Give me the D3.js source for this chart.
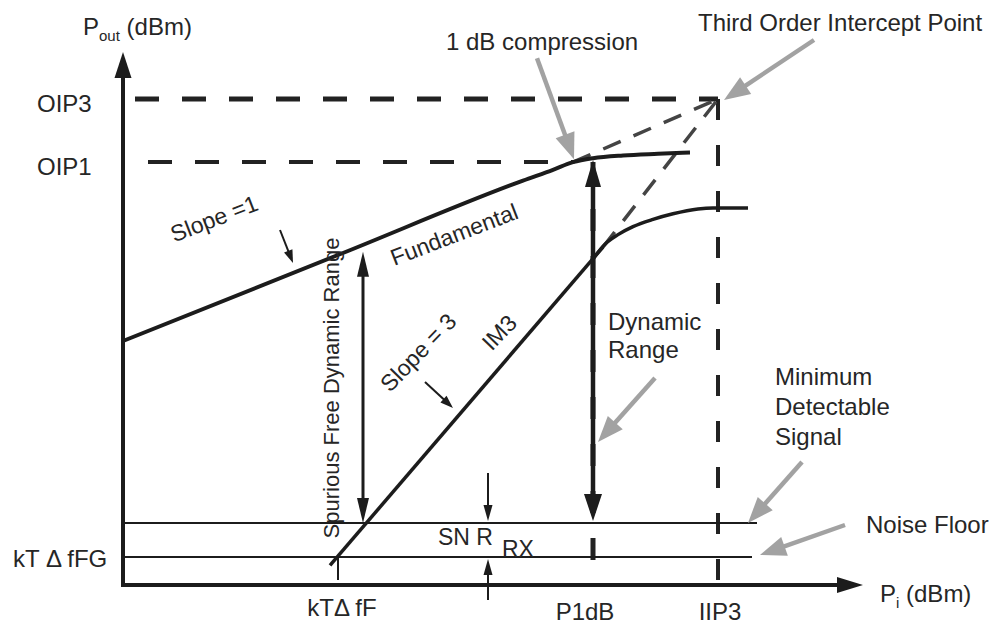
<!DOCTYPE html>
<html lang="en">
<head>
<meta charset="UTF-8">
<title>Dynamic range</title>
<script src="https://cdnjs.cloudflare.com/ajax/libs/d3/7.8.5/d3.min.js"></script>
<style>
    html, body { margin: 0; padding: 0; background: #fff; }
    svg text { font-family: "Liberation Sans", Arial, sans-serif; fill: #262626; }
</style>
</head>
<body>
<svg id="plot"></svg>
<script>
// input power (dBm) / output power (dBm)
const fundamental = [[-59.5, -30.5], [-37.5, -8.5], [-19.5, 9.6], [-16.5, 12.3], [-14.5, 14.2],
                     [-12.5, 15.2], [-9.5, 15.9], [-6, 16.3], [-2.8, 16.6]];
const fundamentalExt = [[-14.5, 14.2], [0, 30]];
const im3 = [[-38.8, -86.6], [-11.5, -7]];
const im3Ext = [[-11.5, -7], [0, 30]];
const im3Compressed = [[-12.5, -10], [-11.3, -6.3], [-10, -3.9], [-8.5, -1.9], [-6.5, -0.1],
                       [-4.5, 1.3], [-2, 2.5], [-0.5, 2.75], [3, 2.75]];

const yTicks = [["OIP3", 30], ["OIP1", 14.25], ["kT \u0394 fFG", -84.5]];
const xTicks = [["kT\u0394 fF", -38], ["P1dB", -12.5], ["IIP3", 0]];

const OIP3 = 30, OIP1 = 14.25, IIP3 = 0, P1DB = -12.5, KTF = -38;
const MDS = -76, NOISE = -84.5;
const SFDR_PIN = -35.5, SFDR_TOP = -8.2;
const SNR_PIN = -23, SNR_TOP = -63.5, SNR_BOTTOM = -95.25;
const LEVEL_END = [3.9, 3.4];   // end of MDS / noise floor lines

const width = 998, height = 626;
const svg = d3.select("#plot").attr("width", width).attr("height", height);

const x = d3.scaleLinear().domain([-59.5, 14.5]).range([123, 863]);
const y = d3.scaleLinear().domain([-91.5, 41.75]).range([585, 52]);

const INK = "#1c1c1c", GREY = "#a2a2a2";

function arrow(g, x1, y1, x2, y2, o) {
    const a = Math.atan2(y2 - y1, x2 - x1);
    const bx = x2 - o.len * Math.cos(a), by = y2 - o.len * Math.sin(a);
    const c = o.color || INK;
    g.append("line")
        .attr("x1", x1).attr("y1", y1)
        .attr("x2", bx + Math.cos(a)).attr("y2", by + Math.sin(a))
        .attr("stroke", c).attr("stroke-width", o.sw);
    const s = Math.sin(a) * o.w / 2, k = Math.cos(a) * o.w / 2;
    g.append("path")
        .attr("d", `M${x2},${y2}L${bx + s},${by - k}L${bx - s},${by + k}Z`)
        .attr("fill", c);
}

function dashed(g, x1, y1, x2, y2, sw, dash, color) {
    g.append("line")
        .attr("x1", x1).attr("y1", y1).attr("x2", x2).attr("y2", y2)
        .attr("stroke", color || "#222").attr("stroke-width", sw)
        .attr("stroke-dasharray", dash);
}

const g = svg.append("g");

// reference levels
dashed(g, 135, y(OIP3), x(IIP3), y(OIP3), 5, "24,23");
dashed(g, 148, y(OIP1), x(-14.5), y(OIP1), 4, "24,23");
dashed(g, x(IIP3), y(OIP3), x(IIP3), y.range()[0], 4, "21,25");
dashed(g, x(P1DB), y(OIP1), x(P1DB), y.range()[0], 5, "22,25");

g.append("line").attr("x1", x.range()[0]).attr("x2", x(LEVEL_END[0]))
    .attr("y1", y(MDS)).attr("y2", y(MDS)).attr("stroke", INK).attr("stroke-width", 2);
g.append("line").attr("x1", x.range()[0]).attr("x2", x(LEVEL_END[1]))
    .attr("y1", y(NOISE)).attr("y2", y(NOISE)).attr("stroke", INK).attr("stroke-width", 2);

// kT df F tick
g.append("line").attr("x1", x(KTF)).attr("x2", x(KTF))
    .attr("y1", y(NOISE)).attr("y2", y(-90.25)).attr("stroke", INK).attr("stroke-width", 2);

// curves
const line = d3.line().x(d => x(d[0])).y(d => y(d[1]));
const smooth = d3.line().x(d => x(d[0])).y(d => y(d[1])).curve(d3.curveMonotoneX);

g.append("path").datum(fundamentalExt).attr("d", line)
    .attr("fill", "none").attr("stroke", "#444").attr("stroke-width", 3.5).attr("stroke-dasharray", "19,14");
g.append("path").datum(im3Ext).attr("d", line)
    .attr("fill", "none").attr("stroke", "#444").attr("stroke-width", 3.5).attr("stroke-dasharray", "19,14");

g.append("path").datum(fundamental).attr("d", smooth)
    .attr("fill", "none").attr("stroke", INK).attr("stroke-width", 4);
g.append("path").datum(im3).attr("d", line)
    .attr("fill", "none").attr("stroke", INK).attr("stroke-width", 3.5);
g.append("path").datum(im3Compressed).attr("d", smooth)
    .attr("fill", "none").attr("stroke", INK).attr("stroke-width", 3.5);

// axes
const x0 = x.range()[0], y0 = y.range()[0];
g.append("line").attr("x1", x0).attr("y1", y0).attr("x2", x0).attr("y2", y.range()[1] + 24)
    .attr("stroke", INK).attr("stroke-width", 4).attr("stroke-linecap", "square");
arrow(g, x0, y0, x0, y.range()[1], {len: 26, w: 17, sw: 4});
g.append("line").attr("x1", x0).attr("y1", y0).attr("x2", x.range()[1] - 24).attr("y2", y0)
    .attr("stroke", INK).attr("stroke-width", 4).attr("stroke-linecap", "square");
arrow(g, x0, y0, x.range()[1], y0, {len: 26, w: 16, sw: 4});

// dynamic range arrows
arrow(g, x(P1DB), y(-30), x(P1DB), y(OIP1) - 2, {len: 27, w: 16, sw: 4.5});
arrow(g, x(P1DB), y(-30), x(P1DB), y(MDS) - 2, {len: 27, w: 18, sw: 4.5});
arrow(g, x(SFDR_PIN), y(-40), x(SFDR_PIN), y(SFDR_TOP), {len: 25, w: 12, sw: 3});
arrow(g, x(SFDR_PIN), y(-40), x(SFDR_PIN), y(MDS), {len: 25, w: 12, sw: 3});
arrow(g, x(SNR_PIN), y(SNR_TOP), x(SNR_PIN), y(MDS) - 2, {len: 16, w: 9, sw: 2});
arrow(g, x(SNR_PIN), y(SNR_BOTTOM), x(SNR_PIN), y(NOISE) + 2, {len: 16, w: 9, sw: 2});

// slope pointers
arrow(g, x(-42.5) - 13, y(-11) - 33, x(-42.5), y(-11), {len: 13, w: 9, sw: 2});
arrow(g, x(-26.5) - 28, y(-47.25) - 26, x(-26.5), y(-47.25), {len: 13, w: 9, sw: 2});

// grey callouts
const callout = (tx, ty, dx, dy) => arrow(g, tx + dx, ty + dy, tx, ty, {len: 26, w: 20, sw: 4.5, color: GREY});
callout(x(-14.5) + 1, y(14.2) - 3, -37, -101);
callout(x(IIP3) + 6, y(OIP3) + 1, 90, -60);
callout(x(P1DB) + 5, y(-55.75), 57, -64);
callout(x(3), y(MDS), 54, -61);
callout(x(4.2), y(NOISE) - 2, 85, -30);

// text
const T = (tx, ty, str, size, anchor, rot) => {
    const t = g.append("text").attr("font-size", size).attr("text-anchor", anchor || "start");
    if (rot !== undefined) t.attr("transform", `translate(${tx},${ty}) rotate(${rot})`);
    else t.attr("x", tx).attr("y", ty);
    t.text(str);
    return t;
};

const pout = g.append("text").attr("x", 83).attr("y", 35).attr("font-size", 24);
pout.append("tspan").text("P");
pout.append("tspan").attr("font-size", 15).attr("dy", 6).text("out");
pout.append("tspan").attr("dy", -6).text(" (dBm)");

const pin = g.append("text").attr("x", 880).attr("y", 602).attr("font-size", 24);
pin.append("tspan").text("P");
pin.append("tspan").attr("font-size", 15).attr("dy", 6).text("i");
pin.append("tspan").attr("dy", -6).text("  (dBm)");

yTicks.forEach(([lab, v]) => T(lab.startsWith("kT") ? 13 : 37, y(v) + (lab.startsWith("kT") ? 10 : 13), lab, 24));
xTicks.forEach(([lab, v], i) => T(x(v) + (i === 0 ? 4 : i === 1 ? -8 : 2), i === 0 ? 616 : 620, lab, 24, "middle"));

T(446, 50, "1 dB compression", 24);
T(698, 31, "Third Order Intercept Point", 24);
T(217, 226, "Slope =1", 23, "middle", -21);
T(457, 242, "Fundamental", 23, "middle", -21);
T(339, 388, "Spurious Free Dynamic Range", 22, "middle", -90);
T(424, 358, "Slope = 3", 23, "middle", -46);
T(505, 338, "IM3", 23, "middle", -46);
T(608, 330, "Dynamic", 24);
T(608, 358, "Range", 24);
T(775, 385, "Minimum", 24);
T(775, 415, "Detectable", 24);
T(775, 445, "Signal", 24);
T(866, 533, "Noise Floor", 24);
T(438, 545, "SN R", 23);
T(502, 557, "RX", 23);
</script>
</body>
</html>
